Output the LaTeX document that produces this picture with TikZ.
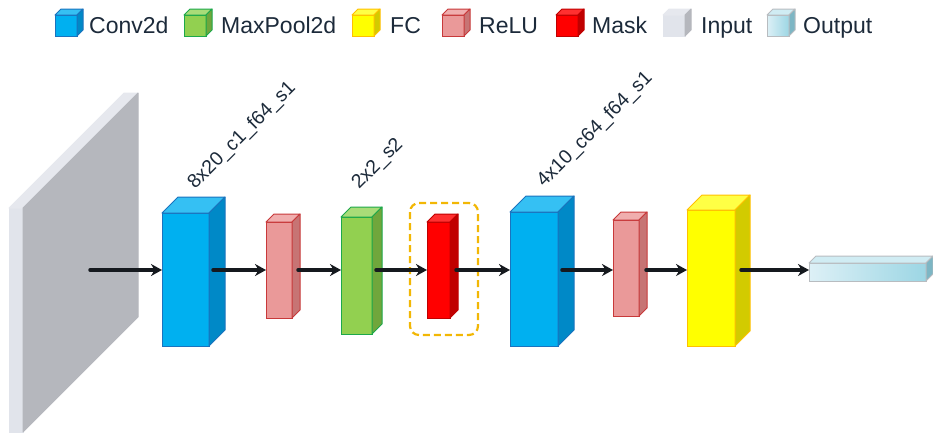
\documentclass[tikz,border=0pt]{standalone}
\usepackage{fontspec}
\setmainfont{Liberation Sans}
\usetikzlibrary{calc,arrows.meta}
\tikzset{>={Stealth[length=11pt,width=12pt]}}

\definecolor{ink}{HTML}{1C2A3A}
\definecolor{arrowC}{HTML}{15191E}
\definecolor{convF}{HTML}{00B0F0}\definecolor{convT}{HTML}{35C0F3}
\definecolor{convS}{HTML}{0089C7}\definecolor{convL}{HTML}{1A73BE}
\definecolor{reluF}{HTML}{EA9999}\definecolor{reluT}{HTML}{F0AEAE}
\definecolor{reluS}{HTML}{C77474}\definecolor{reluL}{HTML}{C8393A}
\definecolor{poolF}{HTML}{92D050}\definecolor{poolT}{HTML}{A9DC78}
\definecolor{poolS}{HTML}{70A63C}\definecolor{poolL}{HTML}{1DA84A}
\definecolor{maskF}{HTML}{FF0000}\definecolor{maskT}{HTML}{FF3030}
\definecolor{maskS}{HTML}{C00000}\definecolor{maskL}{HTML}{C00000}
\definecolor{fcF}{HTML}{FFFF00}\definecolor{fcT}{HTML}{FFFF45}
\definecolor{fcS}{HTML}{D2CB00}\definecolor{fcL}{HTML}{FFC000}
\definecolor{inF}{HTML}{E1E4EB}\definecolor{inT}{HTML}{E6E8EE}
\definecolor{inS}{HTML}{B5B7BD}
\definecolor{outA}{HTML}{DDF0F6}\definecolor{outB}{HTML}{9CD6E4}
\definecolor{outT}{HTML}{D0ECF3}\definecolor{outS}{HTML}{7DB6C4}
\definecolor{outL}{HTML}{B8BCC0}
\definecolor{frameC}{HTML}{F2B705}

\tikzset{
  face/.style={anchor=north west, inner sep=0pt, outer sep=0pt, line width=1pt},
  facejoin/.style={line width=1pt, line join=round},
  conv/.style={draw=convL, fill=convF}, conv top/.style={draw=convL, fill=convT}, conv side/.style={draw=convL, fill=convS},
  relu/.style={draw=reluL, fill=reluF}, relu top/.style={draw=reluL, fill=reluT}, relu side/.style={draw=reluL, fill=reluS},
  pool/.style={draw=poolL, fill=poolF}, pool top/.style={draw=poolL, fill=poolT}, pool side/.style={draw=poolL, fill=poolS},
  mask/.style={draw=maskL, fill=maskF}, mask top/.style={draw=maskL, fill=maskT}, mask side/.style={draw=maskL, fill=maskS},
  fc/.style={draw=fcL, fill=fcF}, fc top/.style={draw=fcL, fill=fcT}, fc side/.style={draw=fcL, fill=fcS},
  inplane/.style={draw=inF, fill=inF}, inplane top/.style={draw=inT, fill=inT}, inplane side/.style={draw=inS, fill=inS},
  outbar/.style={draw=outL, left color=outA, right color=outB}, outbar top/.style={draw=outL, fill=outT}, outbar side/.style={draw=outL, fill=outS},
  legendtext/.style={font=\fontsize{23}{27}\selectfont, text=ink, inner sep=0pt, anchor=base west},
  layerlabel/.style={font=\fontsize{19.5}{24}\selectfont, text=ink, inner sep=0pt, anchor=base west, rotate=45},
  flowarrow/.style={->, draw=arrowC, line width=3.5pt, line cap=round},
  maskframe/.style={draw=frameC, line width=2.2pt, dash pattern=on 7pt off 4pt, rounded corners=9pt}
}

% #1 name, #2 kind, #3 x, #4 y (front top left), #5 width, #6 height, #7 depth
\newcommand{\layerbox}[7]{%
  \node[#2, face, minimum width=#5pt, minimum height=#6pt] (#1) at (#3,#4) {};
  \draw[#2 top, facejoin] (#1.north west) -- ++(#7,-#7) -- ++(#5,0) -- (#1.north east) -- cycle;
  \draw[#2 side, facejoin] (#1.north east) -- ++(#7,-#7) -- ++(0,#6) -- (#1.south east) -- cycle;
}

\begin{document}
\begin{tikzpicture}[x=1pt,y=-1pt]
\useasboundingbox (0,0) rectangle (933,437);

% legend
\layerbox{lgconv}{conv}{55}{15}{22}{21}{6}
\node[legendtext] (tconv) at (89,33) {Conv2d};
\layerbox{lgpool}{pool}{184}{15}{22}{21}{6}
\node[legendtext] (tpool) at (221,33) {MaxPool2d};
\layerbox{lgfc}{fc}{352}{15}{22}{21}{6}
\node[legendtext] (tfc) at (390,33) {FC};
\layerbox{lgrelu}{relu}{442}{15}{22}{21}{6}
\node[legendtext] (trelu) at (479,33) {ReLU};
\layerbox{lgmask}{mask}{556}{15}{22}{21}{6}
\node[legendtext] (tmask) at (592,33) {Mask};
\layerbox{lginp}{inplane}{663}{15}{22}{21}{6}
\node[legendtext] (tinp) at (701,33) {Input};
\layerbox{lgout}{outbar}{767}{15}{22}{21}{6}
\node[legendtext] (tout) at (803,33) {Output};

% network
\layerbox{inp}{inplane}{9}{208}{14}{224}{115}
\layerbox{conv1}{conv}{162}{213}{47}{133}{16}
\layerbox{relu1}{relu}{266}{222}{26}{96}{8}
\layerbox{pool1}{pool}{341}{217}{31}{117}{10}
\draw[maskframe] (410,203) rectangle (478,335);
\layerbox{mask1}{mask}{427}{222}{23}{96}{8}
\layerbox{conv2}{conv}{510}{212}{48}{134}{16}
\layerbox{relu2}{relu}{613}{220}{26}{96}{8}
\layerbox{fc1}{fc}{687}{210}{48}{136}{15}
\layerbox{out}{outbar}{809}{263}{117}{18}{7}

\node[layerlabel] (lbl1) at (195,190) {8x20\_c1\_f64\_s1};
\node[layerlabel] (lbl2) at (359,190) {2x2\_s2};
\node[layerlabel] (lbl3) at (544,188) {4x10\_c64\_f64\_s1};

\coordinate (flow) at (0,270);
\coordinate (src) at (90,270);
\draw[flowarrow] (src) -- (conv1.west |- flow);
\draw[flowarrow] ($(conv1.east |- flow)+(4,0)$) -- (relu1.west |- flow);
\draw[flowarrow] ($(relu1.east |- flow)+(6,0)$) -- (pool1.west |- flow);
\draw[flowarrow] ($(pool1.east |- flow)+(4,0)$) -- (mask1.west |- flow);
\draw[flowarrow] ($(mask1.east |- flow)+(6,0)$) -- (conv2.west |- flow);
\draw[flowarrow] ($(conv2.east |- flow)+(4,0)$) -- (relu2.west |- flow);
\draw[flowarrow] ($(relu2.east |- flow)+(7,0)$) -- (fc1.west |- flow);
\draw[flowarrow] ($(fc1.east |- flow)+(6,0)$) -- (out.west |- flow);
\end{tikzpicture}
\end{document}
